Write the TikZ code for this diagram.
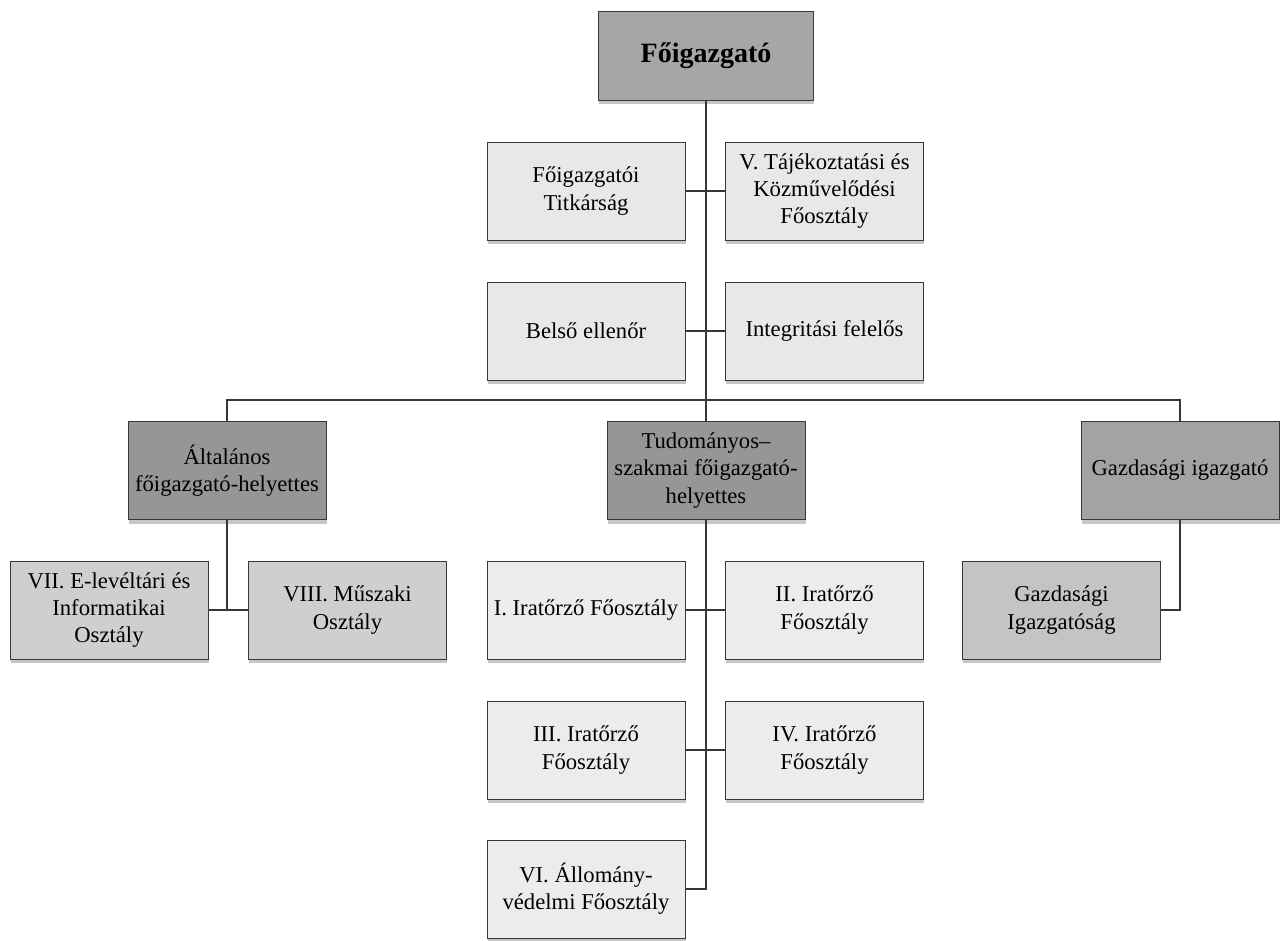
\documentclass[tikz,border=0pt]{standalone}
\usepackage{fontspec}
\setmainfont{Liberation Serif}
\usetikzlibrary{shadows}

\definecolor{topgray}{RGB}{166,166,166}
\definecolor{headgray}{RGB}{150,150,150}
\definecolor{gazdgray}{RGB}{163,163,163}
\definecolor{staffgray}{RGB}{232,232,232}
\definecolor{deptgray}{RGB}{236,236,236}
\definecolor{techgray}{RGB}{207,207,207}
\definecolor{finegray}{RGB}{196,196,196}
\definecolor{linegray}{RGB}{55,55,55}

\tikzset{every picture/.style={line width=0.75pt}}
\tikzset{
  unitbox/.style={draw=linegray, line width=0.6pt, minimum width=148.5pt, minimum height=73.5pt,
    align=center, inner sep=2pt, font=\fontsize{17}{20.5}\selectfont,
    drop shadow={shadow xshift=0.5pt, shadow yshift=-3pt, opacity=0.45}},
  topbox/.style={unitbox, fill=topgray, minimum width=161.25pt, minimum height=66.75pt,
    font=\fontsize{21}{25}\selectfont\bfseries},
  headbox/.style={unitbox, fill=headgray},
  staffbox/.style={unitbox, fill=staffgray},
  deptbox/.style={unitbox, fill=deptgray},
  link/.style={draw=linegray, line width=0.9pt}
}

\begin{document}
\begin{tikzpicture}[x=0.75pt,y=0.75pt,yscale=-1,xscale=1]
\useasboundingbox (0,0) rectangle (1285,940);

% Top level
\node [topbox] (fo) at (706,55.5) {Főigazgató};

% Staff units
\node [staffbox] (titk) at (586,191) {Főigazgatói\\Titkárság};
\node [staffbox] (tajek) at (824.5,191) {V. Tájékoztatási és\\Közművelődési\\Főosztály};
\node [staffbox] (belso) at (586,331) {Belső ellenőr};
\node [staffbox] (integ) at (824.5,331) {Integritási felelős};

% Deputies
\node [headbox] (altal) at (227,470.5) {Általános\\főigazgató-helyettes};
\node [headbox] (tudom) at (706,470.5) {Tudományos–\\szakmai főigazgató-\\helyettes};
\node [headbox, fill=gazdgray] (gazd) at (1180,470.5) {Gazdasági igazgató};

% Departments
\node [unitbox, fill=techgray] (elev) at (109,610) {VII. E-levéltári és\\Informatikai\\Osztály};
\node [unitbox, fill=techgray] (muszaki) at (347.5,610) {VIII. Műszaki\\Osztály};
\node [deptbox] (irat1) at (586,610) {I. Iratőrző Főosztály};
\node [deptbox] (irat2) at (824.5,610) {II. Iratőrző\\Főosztály};
\node [unitbox, fill=finegray] (gazdig) at (1061.5,610) {Gazdasági\\Igazgatóság};
\node [deptbox] (irat3) at (586,750) {III. Iratőrző\\Főosztály};
\node [deptbox] (irat4) at (824.5,750) {IV. Iratőrző\\Főosztály};
\node [deptbox] (allom) at (586,889) {VI. Állomány-\\védelmi Főosztály};

\coordinate (bus) at (706,400);

% Connectors
\draw [link] (fo.south) -- (tudom.north);
\draw [link] (titk.east) -- (tajek.west);
\draw [link] (belso.east) -- (integ.west);
\draw [link] (altal.north) |- (bus) -| (gazd.north);
\draw [link] (altal.south) -- (altal.south |- elev.east);
\draw [link] (elev.east) -- (muszaki.west);
\draw [link] (tudom.south) |- (allom.east);
\draw [link] (irat1.east) -- (irat2.west);
\draw [link] (irat3.east) -- (irat4.west);
\draw [link] (gazd.south) |- (gazdig.east);

\end{tikzpicture}
\end{document}
